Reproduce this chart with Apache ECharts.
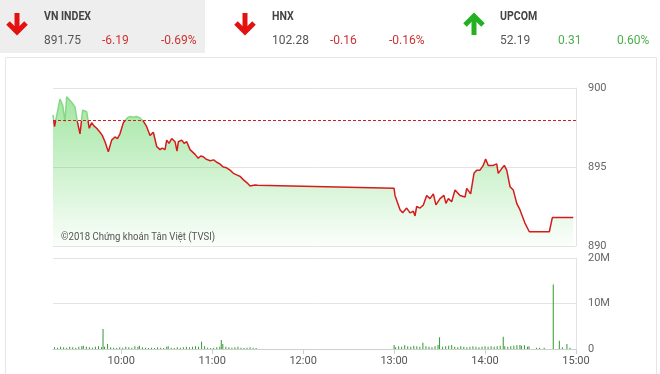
<!DOCTYPE html>
<html><head><meta charset="utf-8">
<script src="https://cdn.jsdelivr.net/npm/echarts@6/dist/echarts.min.js"></script>
<style>html,body{margin:0;padding:0;background:#fff}#c{width:660px;height:374px}</style>
</head><body><div id="c"></div>
<script>
// Price line: minutes since midnight and index value
var priceTimes = [555,556,559.6,561.4,562.9,564,567.3,569.5,571,572.8,574.6,577.2,578.9,580.5,582,583.8,586,587.5,589.3,591.5,593.7,595.9,597.5,599.2,601.4,604,606,608,610,612.4,614.6,616.8,619,621.2,623.4,625.6,627,628.9,630,631.5,633.3,635.5,636.8,637.7,639.9,641.5,643.2,645.4,648.7,650.8,652.5,654.1,656,658.6,661,663,665,667.3,669.5,671.8,674,676.2,678.5,680.5,683,685,688.2,690,780,780.6,783.9,785.7,788.3,790.5,792.7,793.8,794.9,797.1,799.3,801.5,803.7,805.9,807.6,810.3,812.9,814.2,815.8,818,820.2,823.5,826.8,827.9,830.5,832.7,834.5,836.7,838.8,840.4,842.1,845.4,847.7,848.7,851,852.7,854.3,856.5,858.6,860.9,863,866.3,869.2,882.4,884.4,898.2];
var priceValues = [898.3,897.55,899.3,898.9,897.9,899.45,899.1,898.8,897.9,897.1,898.6,898.5,897.45,897.8,897.6,897.45,897.2,897.0,896.6,895.97,896.7,896.9,896.8,897.1,897.8,898.1,898.2,898.15,898.2,898.1,897.9,897.55,897.0,897.2,896.3,896.1,896.2,896.1,896.7,896.5,896.8,896.6,896.0,896.6,896.7,896.5,896.6,896.1,895.8,895.55,895.7,895.65,895.5,895.4,895.45,895.3,895.2,895.0,894.95,894.8,894.6,894.5,894.4,894.2,894.0,893.8,893.86,893.85,893.65,893.2,892.3,892.1,892.4,892.1,892.2,891.9,892.5,892.4,892.6,893.2,893.0,893.3,892.6,893.0,893.2,892.7,893.0,892.8,893.55,893.2,893.1,893.65,893.3,894.6,894.8,894.8,895.1,895.5,895.1,895.1,895.2,894.6,894.9,895.1,894.8,893.75,893.55,892.7,892.3,891.45,890.9,890.9,891.8,891.8];
var refClose = 897.94;
var priceMin = 890, priceMax = 900;
// Volume bars: minutes since midnight and volume in millions
var volTimes = [556,558,560,562,564,566,568,570,572,574,575,577,579,581,583,585,587,588,589,591,593,595,597,599,601,603,605,607,609,611,612,614,616,618,620,622,624,626,628,630,631,633,635,637,639,641,643,645,647,649,651,653,655,657,659,661,663,665,666,667,669,671,673,675,677,679,681,683,685,687,689,
  780,781,783,785,787,789,791,793,795,797,799,801,803,805,807,809,810,812,814,816,818,820,822,824,826,828,830,832,834,836,838,840,842,844,846,848,850,852,853,855,857,859,861,863,864,866,868,869,874,876,879,885,889,891,894,896];
var volValues = [0.4,0.3,0.5,0.4,0.3,0.5,0.4,0.3,0.5,0.6,0.7,0.5,0.4,0.3,0.5,0.6,0.4,4.4,0.5,1.1,0.4,0.3,0.2,0.4,0.3,0.5,0.4,0.3,0.6,0.5,0.7,0.4,0.3,0.2,0.3,0.2,0.4,0.3,0.2,0.5,0.6,0.3,0.2,0.4,0.3,0.4,0.5,0.4,0.5,0.6,0.5,1.6,0.6,0.3,0.2,0.3,0.4,0.5,2.0,1.1,0.5,0.4,0.3,0.4,0.5,0.3,0.2,0.3,0.4,0.3,0.2,
  0.9,0.4,0.6,0.5,0.8,0.6,0.5,0.7,0.6,0.5,1.4,0.6,0.5,0.4,0.6,0.9,2.6,0.5,0.6,0.7,0.9,0.5,0.4,0.6,0.5,0.4,0.5,0.6,0.5,0.4,0.5,0.6,0.5,0.6,0.5,0.6,0.7,2.7,0.6,0.5,0.6,0.7,0.8,0.9,0.7,0.8,0.5,0.6,0.3,0.3,0.3,14.2,1.8,0.4,1.1,0.3];
var hourTicks = [600,660,720,780,840,900];
var header = [
  {name:'VN INDEX', value:'891.75', change:'-6.19', pct:'-0.69%', up:false},
  {name:'HNX', value:'102.28', change:'-0.16', pct:'-0.16%', up:false},
  {name:'UPCOM', value:'52.19', change:'0.31', pct:'0.60%', up:true}
];

function zip(a,b){return a.map(function(t,i){return [t,b[i]];});}
function hm(m){var h=Math.floor(m/60),mm=Math.round(m%60);return h+':'+(mm<10?'0':'')+mm;}

var chart = echarts.init(document.getElementById('c'), null, {renderer:'canvas'});
var g = [
  {type:'rect', shape:{x:5.5,y:57.5,width:651,height:330}, style:{fill:'#fff',stroke:'#e6e6e6',lineWidth:1}, z:-10},
  {type:'rect', shape:{x:0,y:0,width:205,height:53}, style:{fill:'#eeeeee'}, z:-10}
];
var arrowX = [17,245,474];
header.forEach(function(h,i){
  var bx = [44,272,500][i];
  var ax = arrowX[i];
  var col = h.up ? '#22b122' : '#e51010';
  var valCol = h.up ? '#4cae4c' : '#cc3333';
  if(h.up){
    g.push({type:'polyline', shape:{points:[[ax,35],[ax,17]]}, style:{stroke:col,lineWidth:5,fill:null}});
    g.push({type:'polyline', shape:{points:[[ax-9,25],[ax,16],[ax+9,25]]}, style:{stroke:col,lineWidth:5,fill:null}});
  } else {
    g.push({type:'polyline', shape:{points:[[ax,13],[ax,31]]}, style:{stroke:col,lineWidth:5,fill:null}});
    g.push({type:'polyline', shape:{points:[[ax-9,23],[ax,32],[ax+9,23]]}, style:{stroke:col,lineWidth:5,fill:null}});
  }
  g.push({type:'text', x:bx, y:17, scaleX:0.88, style:{text:h.name, font:'bold 12px Roboto', fill:'#444', textVerticalAlign:'middle'}});
  g.push({type:'text', x:bx, y:41, style:{text:h.value, font:'12px Roboto', fill:'#555', textVerticalAlign:'middle'}});
  g.push({type:'text', x:bx+58, y:41, style:{text:h.change, font:'12px Roboto', fill:valCol, textVerticalAlign:'middle'}});
  g.push({type:'text', x:bx+117, y:41, style:{text:h.pct, font:'12px Roboto', fill:valCol, textVerticalAlign:'middle'}});
});
g.push({type:'text', x:61, y:237, scaleX:0.87, style:{text:'©2018 Chứng khoán Tân Việt (TVSI)', font:'11px Roboto', fill:'#555', textVerticalAlign:'middle'}, z:10});

// line colour: green above the reference close, red below (grid 0 spans y 88..246)
var refOff = (priceMax - refClose) / (priceMax - priceMin);
var lineGrad = new echarts.graphic.LinearGradient(0, 88, 0, 246, [
  {offset:0, color:'#86d886'}, {offset:refOff, color:'#86d886'},
  {offset:refOff, color:'#d41c1c'}, {offset:1, color:'#d41c1c'}], true);

chart.setOption({
  animation:false,
  backgroundColor:'transparent',
  graphic: g,
  grid:[
    {left:53, right:84, top:88, height:158},
    {left:53, right:84, top:258, height:91}
  ],
  xAxis:[
    {type:'value', gridIndex:0, min:555, max:900, axisLine:{show:false}, axisTick:{show:false}, axisLabel:{show:false}, splitLine:{show:false}},
    {type:'value', gridIndex:1, min:555, max:900,
      axisLine:{show:true, lineStyle:{color:'#cfcfcf'}},
      axisTick:{show:true, customValues:hourTicks, length:5, lineStyle:{color:'#cfcfcf'}},
      axisLabel:{customValues:hourTicks, formatter:function(v){return hm(v);}, color:'#555', fontSize:11, fontFamily:'Roboto', margin:7},
      splitLine:{show:false}}
  ],
  yAxis:[
    {type:'value', gridIndex:0, position:'right', min:priceMin, max:priceMax, interval:5,
      axisLine:{show:true, lineStyle:{color:'#e3e3e3'}}, axisTick:{show:false},
      axisLabel:{color:'#666', fontSize:11, fontFamily:'Roboto', margin:12},
      splitLine:{lineStyle:{color:'#e3e3e3'}}},
    {type:'value', gridIndex:1, position:'right', min:0, max:20, interval:10,
      axisLine:{show:true, lineStyle:{color:'#e3e3e3'}}, axisTick:{show:false},
      axisLabel:{color:'#666', fontSize:11, fontFamily:'Roboto', margin:12, formatter:function(v){return v===0?'0':v+'M';}},
      splitLine:{lineStyle:{color:'#e3e3e3'}}}
  ],
  series:[
    {type:'line', xAxisIndex:0, yAxisIndex:0, data:zip(priceTimes,priceValues), showSymbol:false,
      lineStyle:{width:1.5, color:lineGrad},
      areaStyle:{origin:'start', color:new echarts.graphic.LinearGradient(0,88,0,246,[
        {offset:0,color:'rgba(70,205,70,0.75)'},{offset:1,color:'rgba(70,205,70,0.03)'}], true)},
      markLine:{silent:true, symbol:'none', label:{show:false},
        lineStyle:{color:'#d41c1c', type:[3,2], width:1}, data:[{yAxis:refClose}]}},
    {type:'bar', xAxisIndex:1, yAxisIndex:1, data:zip(volTimes,volValues), barWidth:1,
      itemStyle:{color:'#2f9a2f'}}
  ]
});
</script></body></html>
